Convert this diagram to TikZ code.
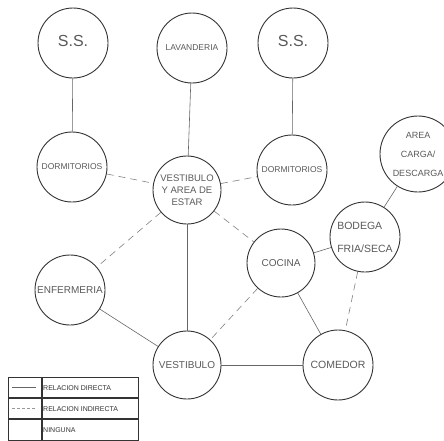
\documentclass[tikz,border=0pt]{standalone}
\usepackage{fontspec}
\setmainfont{Liberation Sans}
\begin{document}
\begin{tikzpicture}[x=1pt,y=-1pt,
  room/.style={circle,draw=black!80,line width=0.9pt,minimum size=#1,inner sep=0pt,align=center,text=black!65,font=\fontsize{10}{12}\selectfont},
  room/.default=70pt,
  big/.style={font=\fontsize{16}{18}\selectfont},
  wide/.style={font=\fontsize{8.5}{10}\selectfont},
  direct/.style={draw=black!60,line width=0.6pt},
  indirect/.style={draw=black!50,line width=0.6pt,dash pattern=on 7pt off 5pt},
  legtxt/.style={anchor=west,inner sep=0pt,text=black!80,font=\fontsize{7}{8}\selectfont}]
\useasboundingbox (0,0) rectangle (444,440);
% rooms
\node[room,big] (ss1) at (73,43) {\raisebox{5pt}{S.S.}};
\node[room,wide] (lav) at (192,48) {LAVANDERIA};
\node[room,big] (ss2) at (293,43) {\raisebox{5pt}{S.S.}};
\node[room,wide] (dorm1) at (72,167) {DORMITORIOS};
\node[room=68pt,font=\fontsize{9.5}{12}\selectfont] (vae) at (187,190) {VESTIBULO\\Y AREA DE\\ESTAR};
\node[room,wide] (dorm2) at (292,170) {DORMITORIOS};
\node[room=76pt,font=\fontsize{9}{16}\selectfont] (carga) at (418,154) {\raisebox{9pt}{\begin{tabular}{@{}c@{}}AREA\\[3pt]CARGA/\\[3pt]DESCARGA\end{tabular}}};
\node[room,font=\fontsize{10.5}{18}\selectfont] (bod) at (365,237) {\raisebox{3pt}{\begin{tabular}{@{}l@{}}BODEGA\\[5pt]FRIA/SECA\end{tabular}}};
\node[room=68pt] (coc) at (281,263) {COCINA};
\node[room] (enf) at (70,290) {ENFERMERIA};
\node[room=68pt] (vest) at (187,365) {VESTIBULO};
\node[room,font=\fontsize{10.5}{12}\selectfont] (com) at (338,365) {COMEDOR};
% connections
\draw[direct] (ss1) -- (dorm1);
\draw[direct] (lav) -- (vae);
\draw[direct] (ss2) -- (dorm2);
\draw[indirect] (dorm1) -- (vae);
\draw[indirect] (vae) -- (dorm2);
\draw[direct] (carga) -- (bod);
\draw[indirect] (vae) -- (enf);
\draw[indirect] (vae) -- (coc);
\draw[direct] (vae) -- (vest);
\draw[direct] (coc) -- (bod);
\draw[indirect] (bod) -- (com);
\draw[indirect] (coc) -- (vest);
\draw[direct] (coc) -- (com);
\draw[direct] (enf) -- (vest);
\draw[direct] (vest) -- (com);
% legend
\draw[black!80,line width=0.7pt] (8,377) rectangle (138,440);
\draw[black!80,line width=1.2pt] (42,377) -- (42,440);
\draw[black!80,line width=1.2pt] (8,398) -- (138,398);
\draw[black!80,line width=1.2pt] (8,419) -- (138,419);
\coordinate (d1) at (12,387.5);
\coordinate (d2) at (36,387.5);
\coordinate (i1) at (12,408.5);
\coordinate (i2) at (36,408.5);
\draw[direct] (d1) -- (d2);
\draw[black!40,line width=0.6pt,dash pattern=on 3pt off 2pt] (i1) -- (i2);
\node[legtxt] (l1) at (43,388) {RELACION DIRECTA};
\node[legtxt] (l2) at (43,409) {RELACION INDIRECTA};
\node[legtxt] (l3) at (43,430) {NINGUNA};
\end{tikzpicture}
\end{document}
